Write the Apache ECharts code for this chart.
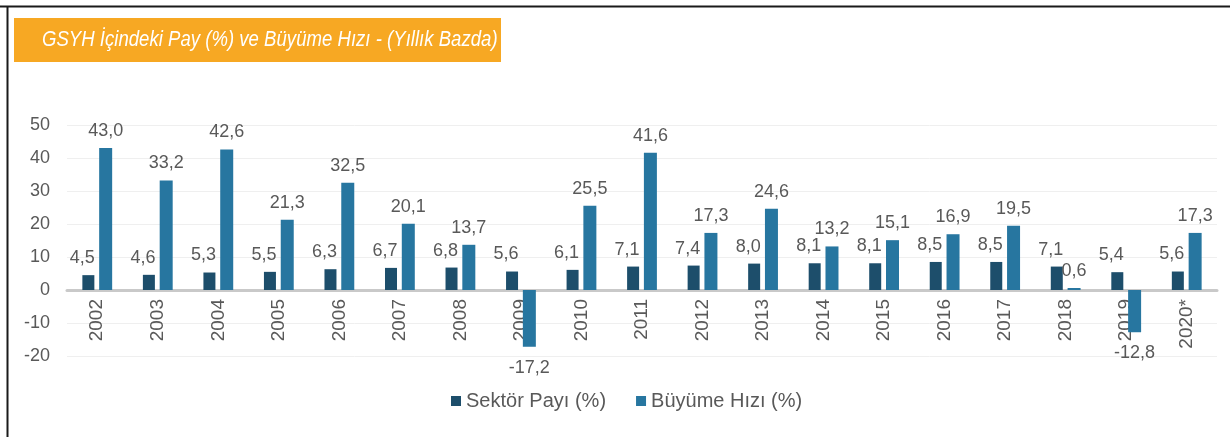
<!DOCTYPE html>
<html><head><meta charset="utf-8">
<script src="https://cdn.jsdelivr.net/npm/echarts@6/dist/echarts.min.js"></script>
<style>html,body{margin:0;padding:0;background:#fff}#c{width:1230px;height:437px}</style>
</head><body><div id="c"></div>
<script>
const categories = ['2002','2003','2004','2005','2006','2007','2008','2009','2010','2011','2012','2013','2014','2015','2016','2017','2018','2019','2020*'];
const sektorPayi = [4.5,4.6,5.3,5.5,6.3,6.7,6.8,5.6,6.1,7.1,7.4,8.0,8.1,8.1,8.5,8.5,7.1,5.4,5.6];
const buyumeHizi = [43.0,33.2,42.6,21.3,32.5,20.1,13.7,-17.2,25.5,41.6,17.3,24.6,13.2,15.1,16.9,19.5,0.6,-12.8,17.3];
const yTicks = [-20,-10,0,10,20,30,40,50];
const seriesNames = ['Sektör Payı (%)','Büyüme Hızı (%)'];
const titleText = 'GSYH İçindeki Pay (%) ve Büyüme Hızı - (Yıllık Bazda)';

const FONT = '"Liberation Sans", Arial, sans-serif';
const GREY = '#595959';
const fmt = v => v.toFixed(1).replace('.', ',');
const toItems = arr => arr.map(v => ({
  value: v,
  label: v < 0 ? { position: 'bottom', distance: 12 } : { position: 'top' }
}));

const chart = echarts.init(document.getElementById('c'), null, {renderer:'canvas'});
chart.setOption({
  animation: false,
  textStyle: { fontFamily: FONT },
  graphic: [
    { type:'line', shape:{x1:0,y1:6.5,x2:1230,y2:6.5}, style:{stroke:'#1a1a1a', lineWidth:2} },
    { type:'line', shape:{x1:7.5,y1:6,x2:7.5,y2:437}, style:{stroke:'#1a1a1a', lineWidth:2} },
    { type:'rect', shape:{x:14,y:18,width:487,height:44}, style:{fill:'#F7A823'} },
    { type:'text', x:42, y:40, scaleX:0.845, style:{ text:titleText, fill:'#ffffff', font:'italic 22px ' + FONT, textAlign:'left', textVerticalAlign:'middle' } }
  ],
  grid: { left:67, right:13, top:125, bottom:81 },
  legend: {
    data: seriesNames,
    left: 446, top: 386,
    itemWidth: 10, itemHeight: 10, itemGap: 30,
    icon: 'rect',
    textStyle: { color: GREY, fontSize: 20, fontFamily: FONT }
  },
  xAxis: {
    type: 'category',
    data: categories,
    offset: -66,
    axisLine: { onZero: false, lineStyle: { color:'#c9c9c9', width:3 } },
    axisTick: { show:false },
    axisLabel: { rotate: 90, color: GREY, fontSize: 19, margin: 9, fontFamily: FONT }
  },
  yAxis: {
    type: 'value',
    min: yTicks[0], max: yTicks[yTicks.length-1], interval: 10,
    axisLine: { show:false },
    axisTick: { show:false },
    splitLine: { lineStyle: { color:'#efefef', width:1 } },
    axisLabel: { color: GREY, fontSize: 18, margin: 17, fontFamily: FONT }
  },
  series: [
    {
      name: seriesNames[0], type: 'bar', data: toItems(sektorPayi),
      barWidth: 12, barGap: '40%',
      itemStyle: { color:'#1d4e6b' },
      label: { show:true, color: GREY, fontSize: 18, distance: 8, fontFamily: FONT, formatter: p => fmt(p.value), offset:[-6,0] }
    },
    {
      name: seriesNames[1], type: 'bar', data: toItems(buyumeHizi),
      barWidth: 13,
      itemStyle: { color:'#2776a0' },
      label: { show:true, color: GREY, fontSize: 18, distance: 8, fontFamily: FONT, formatter: p => fmt(p.value) }
    }
  ]
});
</script>
</body></html>
